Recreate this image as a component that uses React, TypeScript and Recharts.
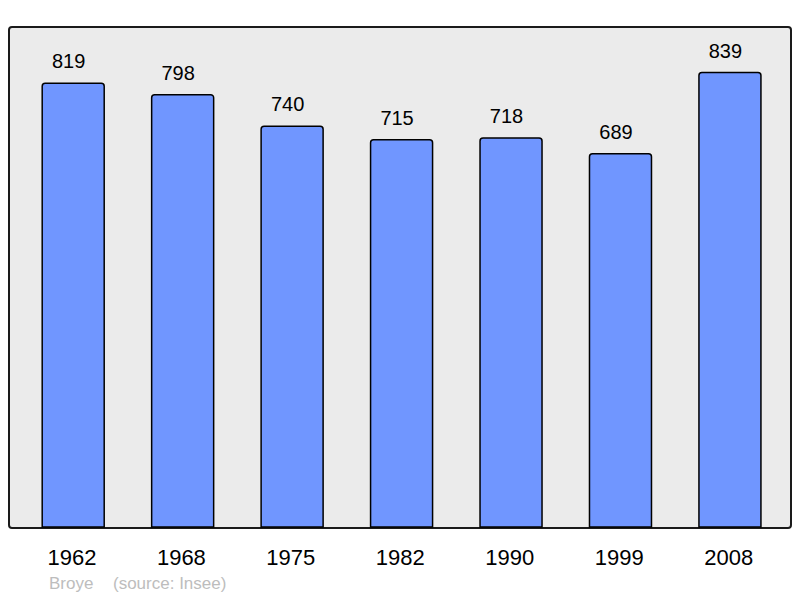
import { BarChart, Bar, XAxis, YAxis, LabelList } from "recharts";

const years = ["1962", "1968", "1975", "1982", "1990", "1999", "2008"];
const population = [819, 798, 740, 715, 718, 689, 839];

const data = years.map((year, i) => ({ year, population: population[i] }));

const FONT = "'Liberation Sans', Arial, sans-serif";

function YearTick(props: any) {
  const { x, payload } = props;
  return (
    <text
      x={x - 1}
      y={565}
      textAnchor="middle"
      fontSize={22}
      fontFamily={FONT}
      fill="#000"
    >
      {payload.value}
    </text>
  );
}

function ValueLabel(props: any) {
  const { x, y, width, value } = props;
  return (
    <text
      x={x + width / 2 - 4.5}
      y={y - 15}
      textAnchor="middle"
      fontSize={20}
      fontFamily={FONT}
      fill="#000"
    >
      {value}
    </text>
  );
}

export default function App() {
  return (
    <div
      style={{
        position: "absolute",
        left: 0,
        top: 0,
        width: 800,
        height: 598,
        background: "#fff",
      }}
    >
      <div
        style={{
          position: "absolute",
          left: 8,
          top: 26,
          width: 780,
          height: 499,
          border: "2px solid #1a1a1a",
          borderRadius: 4,
          background: "#ebebeb",
        }}
      />
      <div style={{ position: "absolute", left: 0, top: 0 }}>
        <BarChart
          width={800}
          height={598}
          data={data}
          margin={{ top: 27, right: 15.6, bottom: 41, left: 18.2 }}
          barCategoryGap={47}
        >
          <XAxis
            dataKey="year"
            axisLine={false}
            tickLine={false}
            height={30}
            tick={<YearTick />}
            interval={0}
          />
          <YAxis hide domain={[0, 923]} />
          <Bar
            dataKey="population"
            fill="#7096ff"
            stroke="#000"
            strokeWidth={1.5}
            radius={[3, 3, 0, 0]}
            barSize={62}
            isAnimationActive={false}
          >
            <LabelList dataKey="population" content={<ValueLabel />} />
          </Bar>
        </BarChart>
      </div>
      <svg
        width={800}
        height={598}
        style={{ position: "absolute", left: 0, top: 0, pointerEvents: "none" }}
      >
        <text x={49} y={589} fontSize={17} fontFamily={FONT} fill="#bdbdbd">
          Broye
        </text>
        <text x={113} y={589} fontSize={17} fontFamily={FONT} fill="#bdbdbd">
          (source: Insee)
        </text>
      </svg>
    </div>
  );
}
